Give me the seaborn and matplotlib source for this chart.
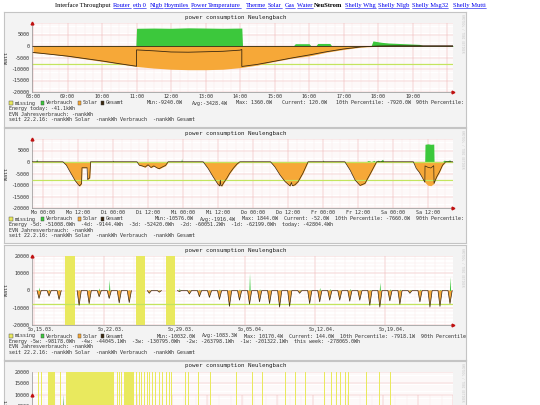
import numpy as np
import matplotlib
matplotlib.use("Agg")
import matplotlib.pyplot as plt
import seaborn as sns
from matplotlib.patches import Rectangle

# ---------------- data ----------------
# day view (today, hours of day)
day_sol_t = [8.0, 8.5, 9.0, 9.5, 10.0, 10.5, 11.0, 11.5, 12.0, 12.5, 13.0, 13.5, 14.0, 14.5,
             14.9, 15.5, 16.0, 16.5, 17.0, 17.5, 18.0, 18.5, 19.0, 20.2]
day_sol_v = [-2900, -3500, -4500, -5600, -6700, -7800, -8900, -9600, -10100, -10300, -10300,
             -10100, -9400, -8300, -7000, -5300, -4300, -2700, -1500, -500, -100, -50, 0, 0]
day_use_t = [8.0, 10.98, 11.0, 11.5, 12.0, 12.5, 13.0, 13.5, 14.05, 14.07, 15.55, 15.6, 16.0,
             16.05, 16.2, 16.25, 16.6, 16.65, 17.8, 17.85, 18.1, 18.3, 18.6, 18.9, 19.2, 19.3, 20.2]
day_use_v = [150, 150, 7700, 7800, 7700, 7900, 7800, 7700, 7800, 150, 150, 1000, 1000,
             150, 150, 1100, 1100, 150, 150, 2200, 1600, 1300, 1100, 900, 700, 150, 150]
day_tot_t = [8.0, 9.0, 10.0, 10.5, 11.0, 11.0, 11.5, 12.0, 12.5, 13.0, 13.5, 14.0, 14.05, 14.05,
             14.5, 14.9, 15.5, 16.0, 16.5, 17.0, 17.5, 18.0, 18.5, 19.0, 20.2]
day_tot_v = [-2800, -4400, -6500, -7700, -8800, -1700, -2100, -2600, -2700, -2500, -2300, -1800,
             -1500, -8900, -8000, -6900, -5200, -3900, -2500, -1300, -400, 0, 100, 100, 100]
day_labels = ["08:00", "09:00", "10:00", "11:00", "12:00", "13:00", "14:00", "15:00",
              "16:00", "17:00", "18:00", "19:00"]

# week view (hours since Monday 00:00)
week_sol_t = [-3.8, 6.8, 8.0, 9.0, 10.0, 11.0, 12.0, 12.5, 13.2, 13.35, 15.1, 15.25, 16.0, 16.3,
              32.2, 33.0, 34.0, 35.0, 36.0, 37.0, 38.0, 39.0, 39.8, 41.0, 42.0, 42.9,
              54.9, 56.6, 58.3, 60.0, 60.6, 60.8, 61.0, 61.3, 62.0, 63.0, 64.0, 65.2, 66.5, 67.5,
              78.0, 79.5, 81.3, 83.0, 84.7, 85.2, 85.5, 86.4, 87.5, 89.1, 90.9,
              103.5, 105.3, 107.0, 108.7, 110.4, 112.1, 114.4,
              127.0, 128.0, 129.0, 130.0, 131.0, 132.0, 133.0, 134.0, 135.0, 136.0, 137.0, 138.0,
              138.4, 140.6]
week_sol_v = [0, 0, -1500, -3800, -6000, -8200, -9800, -10500, -9500, -2600, -2600, -7700, -7000, 0,
              0, -1500, -1800, -2300, -1300, -2500, -1800, -2600, -3000, -2200, -1600, 0,
              0, -2900, -6500, -9800, -10500, -8000, -10300, -10500, -9000, -7200, -5000, -2900,
              -1000, 0,
              0, -2200, -5800, -8600, -10500, -9000, -10400, -10000, -8600, -5000, 0,
              0, -3600, -7900, -10300, -9400, -5500, 0,
              0, -2900, -4500, -6700, -8900, -10100, -10300, -9400, -6600, -4300, -1500, -100,
              0, 0]
week_use_t = [-3.8, -2.5, -2.2, -1.9, 23.8, 24.0, 24.2, 47.3, 47.5, 47.7, 95.9, 96.1, 96.3,
              111.0, 111.3, 112.0, 112.5, 113.5, 114.0, 115.0, 115.5, 116.5, 116.8,
              130.9, 131.0, 132.0, 133.0, 134.0, 134.1, 137.0, 137.5, 138.5, 139.5, 140.0, 140.6]
week_use_v = [150, 150, 1300, 150, 150, 800, 150, 150, 1500, 150, 150, 1000, 150,
              150, 600, 500, 150, 700, 150, 800, 300, 1200, 150,
              150, 7700, 7900, 7700, 7800, 150, 150, 800, 500, 900, 200, 150]
week_tot_t = [-3.8, 6.8, 8.0, 9.0, 10.0, 11.0, 12.0, 12.5, 13.2, 13.35, 15.1, 15.25, 16.0, 16.3,
              32.2, 33.0, 34.0, 35.0, 36.0, 37.0, 38.0, 39.0, 39.8, 41.0, 42.0, 42.9,
              54.9, 56.6, 58.3, 60.0, 60.6, 60.8, 61.0, 61.3, 62.0, 63.0, 64.0, 65.2, 66.5, 67.5,
              78.0, 79.5, 81.3, 83.0, 84.7, 85.2, 85.5, 86.4, 87.5, 89.1, 90.9,
              103.5, 105.3, 107.0, 108.7, 110.4, 112.1, 114.4,
              127.0, 128.0, 129.0, 130.0, 130.95, 131.0, 132.0, 133.0, 134.0, 134.1, 135.0, 136.0,
              137.0, 138.0, 138.4, 140.6]
week_tot_v = [100, 100, -1400, -3700, -5900, -8100, -9700, -10400, -9400, -2500, -2500, -7600, -6900, 100,
              100, -1400, -1700, -2200, -1200, -2400, -1700, -2500, -2900, -2100, -1500, 100,
              100, -2800, -6400, -9700, -10400, -7900, -10200, -10400, -8900, -7100, -4900, -2800,
              -900, 100,
              100, -2100, -5700, -8500, -10400, -8900, -10300, -9900, -8500, -4900, 100,
              100, -3500, -7800, -10200, -9300, -5400, 100,
              100, -2800, -4400, -6600, -8800, -1700, -2300, -2600, -1600, -9300, -6500, -4200,
              -1400, 0, 100, 100]
week_labels = ["Mo 00:00", "Mo 12:00", "Di 00:00", "Di 12:00", "Mi 00:00", "Mi 12:00",
               "Do 00:00", "Do 12:00", "Fr 00:00", "Fr 12:00", "Sa 00:00", "Sa 12:00"]

# month view (one value per day, days since So 15.03.)
month_solar = [-4600, -3200, -5200, None, -8600, -7600, -3600, -4600, -7200, -7000,
               None, -1600, -1000, None, -600, -2000, -3600, -4000, -5200, -9200,
               -5600, -8000, -6600, -7600, -9600, -9200, -1600, -7600, -6600, -5600,
               -5600, -6200, -5600, -8600, -9600, -6000, -8000, -1600, -6600, -9600,
               -9200, -7600]
month_use = [2000, 800, 600, None, 500, 600, 1500, 6400, 500, 400,
             None, 300, 300, None, 1500, 500, 800, 500, 1000, 500,
             1000, 10200, 1000, 500, 600, 400, 500, 600, 1800, 1200,
             400, 1200, 500, 600, 4800, 1000, 800, 500, 800, 300,
             600, 8000]
month_gap_start = [3.1, 10.2, 13.2]
month_gap_end = [4.1, 11.1, 14.1]
month_labels = ["So,15.03.", "So,22.03.", "So,29.03.", "So,05.04.", "So,12.04.", "So,19.04."]

# year view (days since start of window), only the top is visible
year_gap_start = [5.1, 8.2, 14.1, 24.5, 29.1, 73.9, 75.5, 77.5, 79.9, 90.4, 92.8, 94.9, 97.1,
                  99.4, 101.7, 103.8, 106.9, 109.8, 112.8, 115.8, 118.8, 120.9, 132.3, 135.2,
                  144.2, 154.6, 177.1, 190.5, 199.5, 219.0, 227.9, 236.9, 253.3, 259.3, 263.8,
                  266.9, 271.3, 274.3, 289.2, 301.2, 310.2]
year_gap_end = [6.0, 9.1, 20.1, 25.4, 70.9, 74.8, 76.4, 78.4, 88.3, 91.3, 93.7, 95.8, 98.0,
                100.3, 102.6, 104.7, 107.8, 110.7, 113.7, 116.7, 119.7, 121.8, 133.2, 136.1,
                145.1, 155.5, 178.0, 191.4, 200.4, 219.9, 228.8, 237.8, 254.2, 260.2, 264.7,
                267.8, 272.2, 275.2, 290.1, 302.1, 311.1]
year_use_t = [26.4, 27.0, 27.6]
year_use_v = [0, 10500, 0]

legend_stats = [
    [("Min:-9240.0W", 146.5), ("Avg:-3428.4W", 191.5), ("Max: 1360.0W", 236.5),
     ("Current: 120.0W", 281.5), ("10th Percentile: -7920.0W", 335.5),
     ("90th Percentile: 120.0W", 416)],
    [("Min:-10576.0W", 155), ("Avg:-1916.4W", 200), ("Max: 1844.0W", 242),
     ("Current: -52.0W", 284), ("10th Percentile: -7660.0W", 335),
     ("90th Percentile: 96.0W", 416)],
    [("Min:-10032.0W", 157), ("Avg:-1083.3W", 202), ("Max: 10170.4W", 244),
     ("Current: 144.0W", 289), ("10th Percentile: -7918.1W", 340),
     ("90th Percentile: 168.0W", 421)],
]
energy_lines = [
    "Energy today: -41.1kWh",
    "Energy -5d: -51008.0Wh  -4d: -9144.4Wh  -3d: -52420.0Wh  -2d: -60051.2Wh  "
    "-1d: -62199.0Wh  today: -42804.4Wh",
    "Energy -5w: -98178.0Wh  -4w: -44045.1Wh  -3w: -130795.0Wh  -2w: -263798.1Wh  "
    "-1w: -201322.1Wh  this week: -278065.0Wh",
]
pct_low = [-7920, -7660, -7918]

# ---------------- styling ----------------
sns.set_theme(style="white")
plt.rcParams["font.family"] = ["DejaVu Sans Mono", "DejaVu Sans"]

W, H = 540, 405
fig = plt.figure(figsize=(W / 100, H / 100), dpi=100)

C_USE = "#3cc83c"
C_SOL = "#f6a838"
C_TOT = "#3a2810"
C_MISS = "#e9e95e"
C_PCT = "#c4e45e"
C_MAJ = "#f0b8b8"
C_MIN = "#f9e6e6"
TXT = 3.6
TCOL = "#303030"


def px_axes(x0, y0, x1, y1):
    return fig.add_axes([x0 / W, 1 - y1 / H, (x1 - x0) / W, (y1 - y0) / H])


page = fig.add_axes([0, 0, 1, 1])
page.set_xlim(0, W)
page.set_ylim(H, 0)
page.axis("off")

hdr_words = ["Interface Throughput", "Router", "eth 0", "Nlgb", "Hoymiles", "Power",
             "Temperature", "Therme", "Solar", "Gas", "Water", "NeuStrom",
             "Shelly Whg", "Shelly Nlgb", "Shelly Msg32", "Shelly Mutti"]
hdr_x = [55, 113, 133, 150, 164, 191, 208, 246, 268, 285, 297, 314, 345, 378, 412, 453]
hdr_texts = []
for word, x in zip(hdr_words, hdr_x):
    link = word not in ("Interface Throughput", "NeuStrom")
    t = page.text(x, 5.5, word, ha="left", va="center", fontsize=4.7,
                  family="Liberation Serif", color="#0000ee" if link else "black",
                  weight="bold" if word == "NeuStrom" else "normal")
    hdr_texts.append((t, link))


def make_panel(top, idx):
    bx = px_axes(4, top, 466, top + 115)
    bx.set_xlim(4, 466)
    bx.set_ylim(top + 115, top)
    bx.set_facecolor("#f3f3f3")
    bx.set_xticks([])
    bx.set_yticks([])
    for s in bx.spines.values():
        s.set_color("#c4c4c4")
        s.set_linewidth(0.8)
    bx.text(236, top + 5.5, "power consumption Neulengbach", ha="center", va="center",
            fontsize=4.2, color="#222222")
    bx.text(462, top + 3, "RRDTOOL / TOBI OETIKER", rotation=270, ha="center", va="top",
            fontsize=2.2, color="#c8c8c8", clip_on=True)
    bx.text(7, top + 46, "Watt", rotation=90, ha="center", va="center", fontsize=TXT,
            color=TCOL, clip_on=True)
    if idx < 3:
        yl = top + 91.5
        for x, lab, col in [(9.3, "missing", C_MISS), (40.7, "Verbrauch", C_USE),
                            (78, "Solar", C_SOL), (100.7, "Gesamt", C_TOT)]:
            bx.add_patch(Rectangle((x, yl - 1.7), 3.4, 3.4, facecolor=col,
                                   edgecolor="#404040", lw=0.3))
            bx.text(x + 5, yl, lab, ha="left", va="center", fontsize=TXT, color=TCOL)
        for s, x in legend_stats[idx]:
            bx.text(x, yl, s, ha="left", va="center", fontsize=TXT, color=TCOL,
                    clip_on=True)
        bx.text(9, top + 97, energy_lines[idx], ha="left", va="center", fontsize=TXT,
                color=TCOL, clip_on=True)
        bx.text(9, top + 102.5, "EVN Jahresverbrauch: -nankWh", ha="left", va="center",
                fontsize=TXT, color=TCOL)
        bx.text(9, top + 108, "seit 22.2.16: -nankWh Solar  -nankWh Verbrauch  -nankWh Gesamt",
                ha="left", va="center", fontsize=TXT, color=TCOL)
    return bx


def style_plot(ax, xlim, ylim, vmaj, vmin, hmaj, hmin, xticks, xlabels, yticks):
    ax.set_facecolor("white")
    ax.vlines(vmin, ylim[0], ylim[1], color=C_MIN, lw=0.3, zorder=0)
    ax.vlines(vmaj, ylim[0], ylim[1], color=C_MAJ, lw=0.35, zorder=0.1)
    ax.hlines(hmin, xlim[0], xlim[1], color=C_MIN, lw=0.3, zorder=0)
    ax.hlines(hmaj, xlim[0], xlim[1], color=C_MAJ, lw=0.35, zorder=0.1)
    ax.set_xticks(xticks)
    ax.set_xticklabels(xlabels)
    ax.set_yticks(yticks)
    ax.set_yticklabels([str(v) for v in yticks])
    ax.tick_params(length=0, labelsize=TXT, colors=TCOL)
    ax.tick_params(axis="y", pad=2.0)
    ax.tick_params(axis="x", pad=1.2)
    for side in ("top", "right"):
        ax.spines[side].set_visible(False)
    for side in ("left", "bottom"):
        ax.spines[side].set_color("#909090")
        ax.spines[side].set_linewidth(0.5)
    ax.plot([xlim[0]], [ylim[1]], marker="^", ms=2.0, color="#c01010", clip_on=False, zorder=6)
    ax.plot([xlim[1]], [ylim[0]], marker=">", ms=2.0, color="#c01010", clip_on=False, zorder=6)
    ax.set_xlim(*xlim)
    ax.set_ylim(*ylim)
    ax.set_xlabel("")
    ax.set_ylabel("")


tops = [11.5, 127.5, 244.5, 360.5]
for i, top in enumerate(tops):
    make_panel(top, i)

# ---- panel 1: day ----
ax1 = px_axes(32, tops[0] + 11.5, 453, tops[0] + 80.5)
xl = (7.97, 20.17)
yl = (-20000, 10000)
ax1.hlines(pct_low[0], *xl, color=C_PCT, lw=0.9, zorder=1)
ax1.fill_between(day_sol_t, 0, day_sol_v, color=C_SOL, lw=0, zorder=2)
ax1.fill_between(day_use_t, 0, day_use_v, color=C_USE, lw=0, zorder=2)
ax1.hlines(0, *xl, color=C_TOT, lw=0.6, zorder=3)
sns.lineplot(x=day_tot_t, y=day_tot_v, estimator=None, sort=False, ax=ax1, color=C_TOT,
             lw=0.6, zorder=4)
style_plot(ax1, xl, yl, np.arange(8, 21), np.arange(8, 20.3, 0.25),
           np.arange(-20000, 10001, 5000), np.arange(-20000, 10001, 1000),
           list(range(8, 20)), day_labels, [5000, 0, -5000, -10000, -15000, -20000])

# ---- panel 2: week ----
ax2 = px_axes(32, tops[1] + 11.5, 453, tops[1] + 80.5)
xl = (-3.8, 140.6)
ax2.fill_between(week_sol_t, 0, week_sol_v, color=C_SOL, lw=0, zorder=2)
ax2.fill_between(week_use_t, 0, week_use_v, color=C_USE, lw=0, zorder=2)
ax2.hlines(pct_low[1], *xl, color=C_PCT, lw=0.9, zorder=3)
ax2.hlines(100, *xl, color=C_PCT, lw=0.9, zorder=3)
sns.lineplot(x=week_tot_t, y=week_tot_v, estimator=None, sort=False, ax=ax2, color=C_TOT,
             lw=0.5, zorder=4)
style_plot(ax2, xl, yl, np.arange(0, 141, 12), np.arange(-3, 141, 3),
           np.arange(-20000, 10001, 5000), np.arange(-20000, 10001, 1000),
           list(range(0, 133, 12)), week_labels, [5000, 0, -5000, -10000, -15000, -20000])

# ---- panel 3: month ----
ax3 = px_axes(32, tops[2] + 11.5, 453, tops[2] + 80.5)
xl = (-0.2, 41.8)
yl3 = (-20000, 20000)
m_t, m_sol, m_tot = [], [], []
for d, sv in enumerate(month_solar):
    m_t += [d + 0.3, d + 0.5, d + 0.72]
    if sv is None:
        m_sol += [np.nan] * 3
        m_tot += [np.nan] * 3
    else:
        m_sol += [0, sv, 0]
        m_tot += [0, sv, 0]
u_t, u_v = [], []
for d, uv in enumerate(month_use):
    if uv is None:
        continue
    u_t += [d + 0.44, d + 0.5, d + 0.56]
    u_v += [0, uv, 0]
for s, e in zip(month_gap_start, month_gap_end):
    ax3.axvspan(s, e, color=C_MISS, lw=0, zorder=1)
ax3.fill_between(m_t, 0, m_sol, color=C_SOL, lw=0, zorder=2)
ax3.fill_between(u_t, 0, u_v, color=C_USE, lw=0, zorder=2)
ax3.hlines(pct_low[2], *xl, color=C_PCT, lw=0.9, zorder=3)
ax3.plot(m_t, m_tot, color=C_TOT, lw=0.5, zorder=4)
style_plot(ax3, xl, yl3, np.arange(0, 42, 7), np.arange(0, 42, 1),
           np.arange(-20000, 20001, 10000), np.arange(-20000, 20001, 2000),
           [0.7, 7.7, 14.7, 21.7, 28.7, 35.7], month_labels,
           [20000, 10000, 0, -10000, -20000])

# ---- panel 4: year (cut off by the page bottom) ----
ax4 = px_axes(32, tops[3] + 11.5, 453, tops[3] + 80.5)
xl = (0, 365)
for s, e in zip(year_gap_start, year_gap_end):
    ax4.axvspan(s, e, color=C_MISS, lw=0, zorder=1)
ax4.fill_between(year_use_t, 0, year_use_v, color="#2a9a2a", lw=0, zorder=2)
style_plot(ax4, xl, yl, np.arange(0, 366, 30.4), np.arange(0, 366, 10.15),
           np.arange(-10000, 20001, 5000), np.arange(-10000, 20001, 1000),
           [], [], [20000, 15000, 10000, 5000])
ax4.set_ylim(-10000, 20000)

# underline the links in the header
fig.canvas.draw()
inv = page.transData.inverted()
for t, link in hdr_texts:
    if not link:
        continue
    bb = t.get_window_extent()
    (x0, _), (x1, _) = inv.transform([(bb.x0, bb.y0), (bb.x1, bb.y0)])
    page.plot([x0, x1], [8.2, 8.2], color="#0000ee", lw=0.4)

fig.savefig("out.png", dpi=100)
